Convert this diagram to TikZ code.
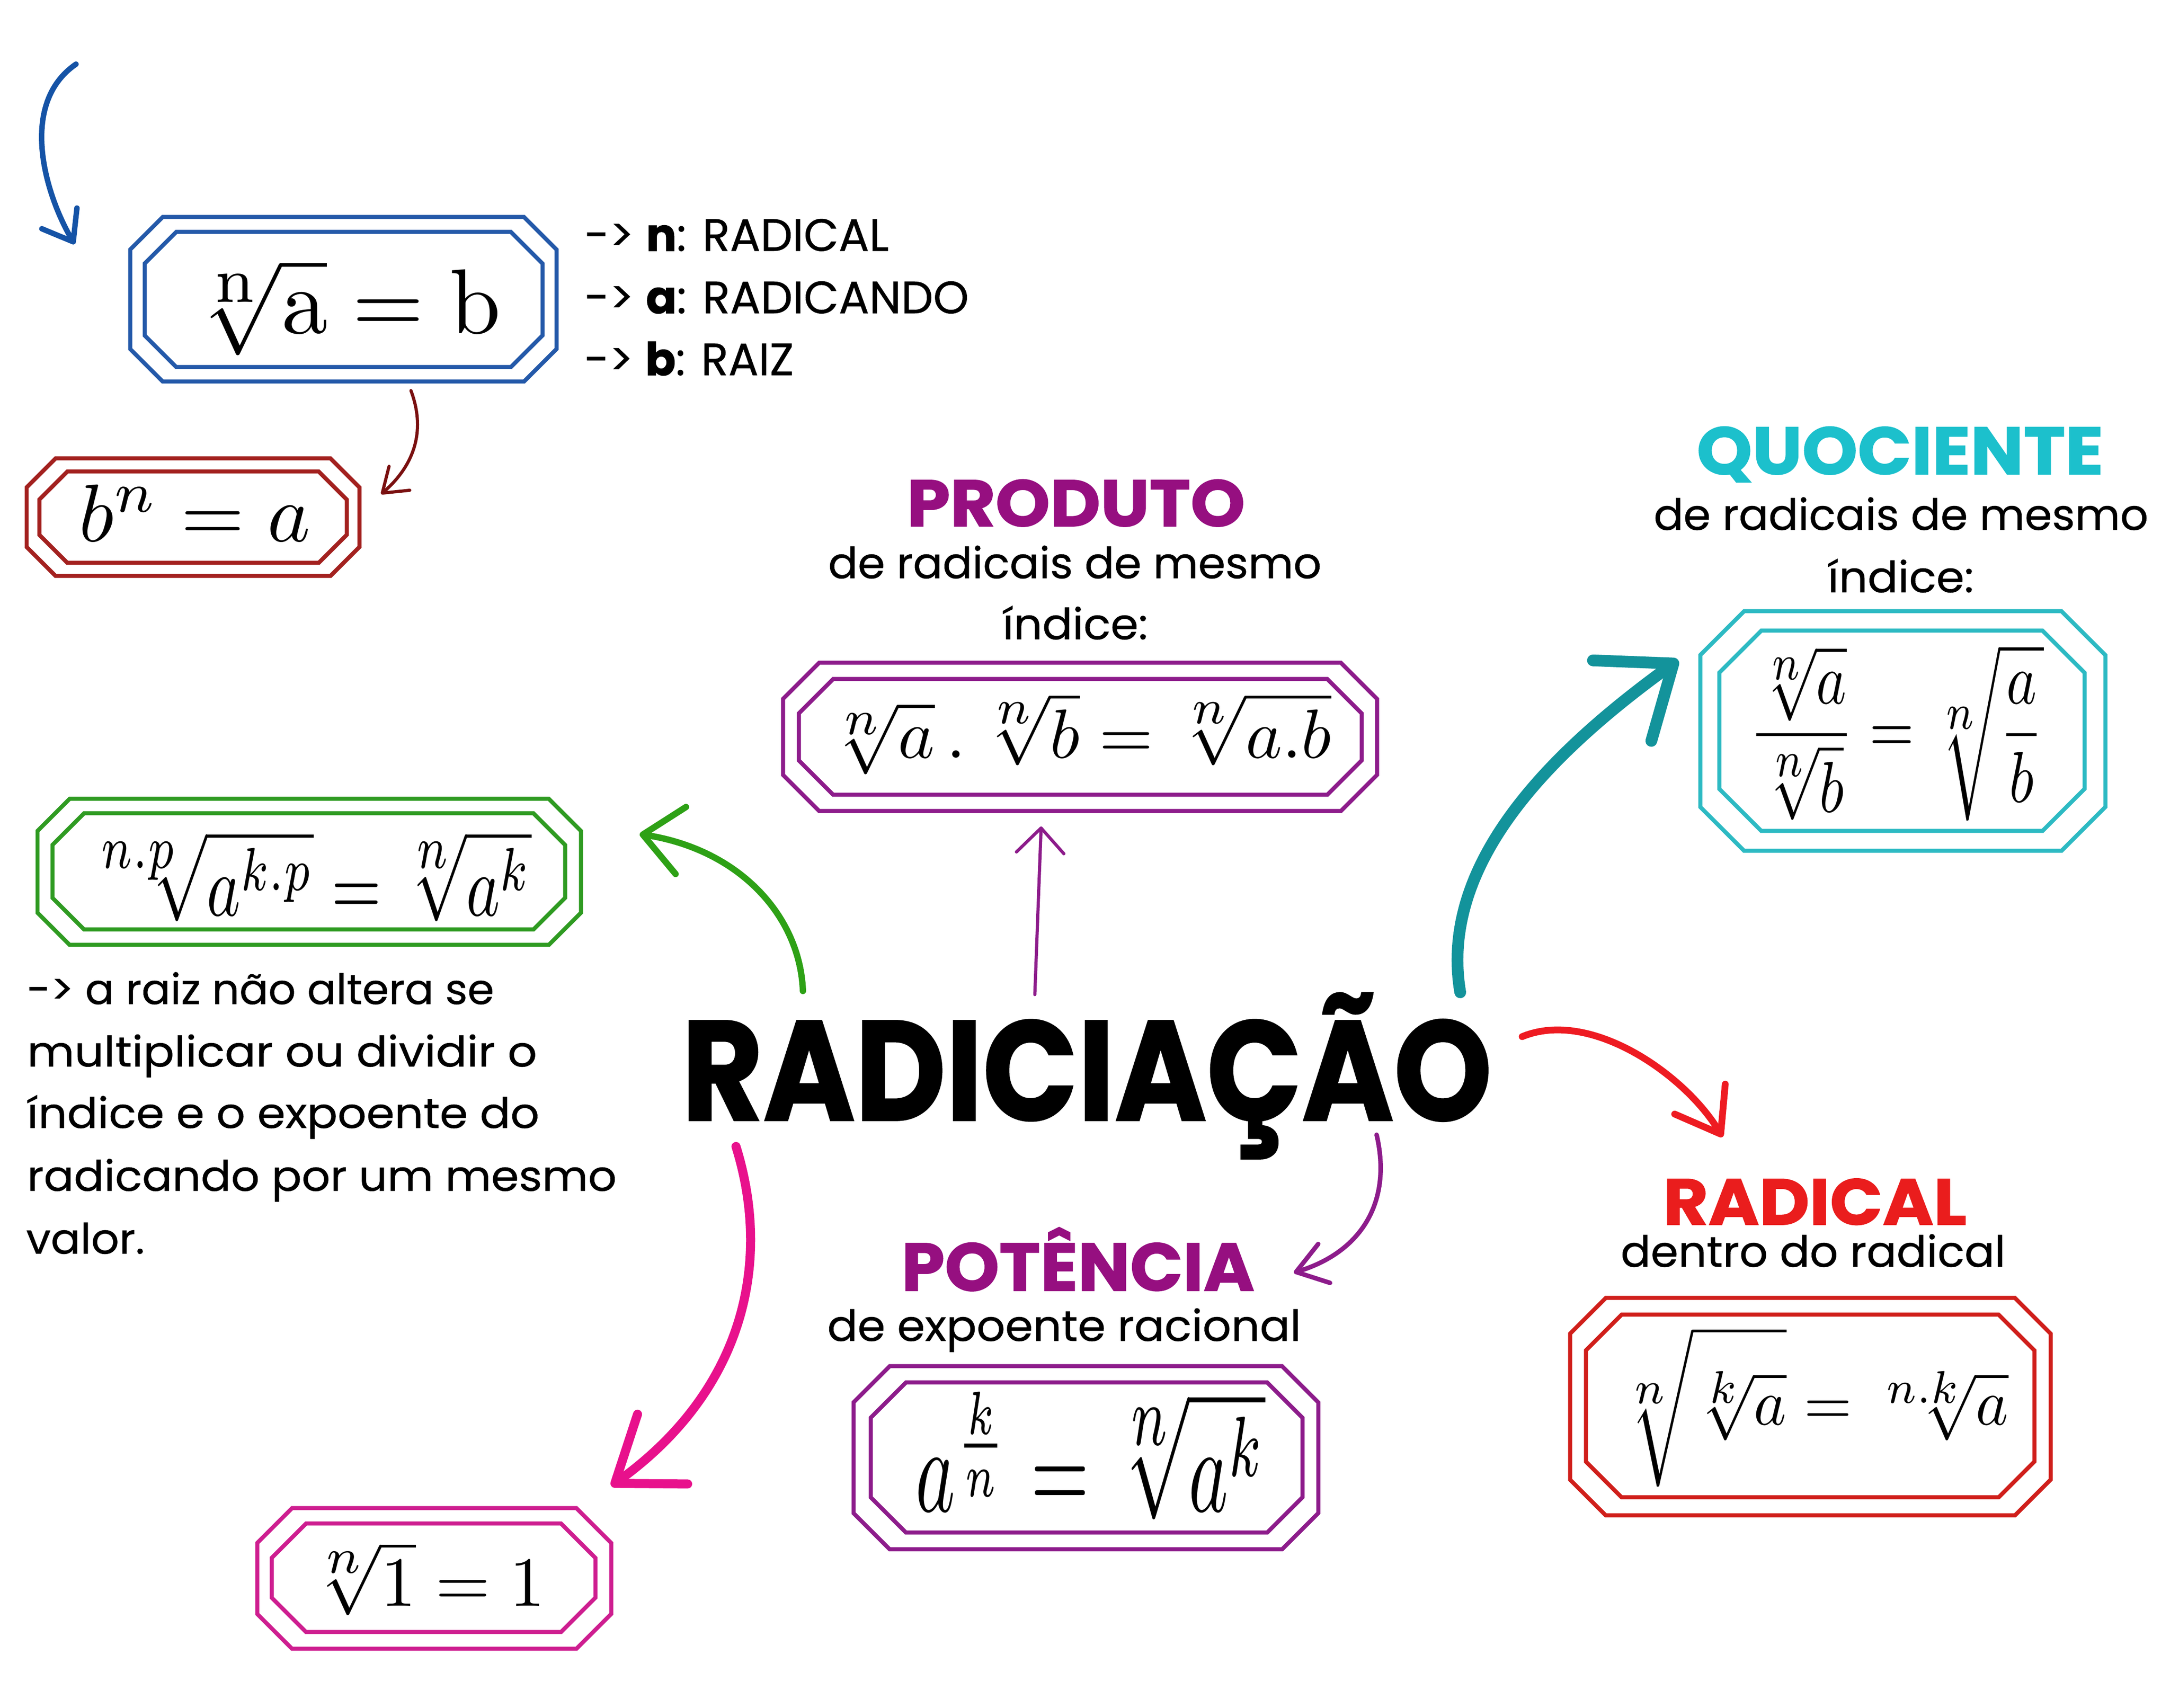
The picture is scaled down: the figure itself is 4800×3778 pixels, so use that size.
\documentclass[tikz,border=0pt]{standalone}
\usepackage[no-math]{fontspec}
\setmainfont{Poppins}
\newfontfamily\bodyf{Poppins}[FakeBold=0.6]
\newfontfamily\headf{Poppins}[UprightFont=* Bold,FakeBold=1.2]
\usepackage{graphicx}
\usepackage{amsmath}
\usetikzlibrary{arrows.meta}
\definecolor{cBlueA}{HTML}{1553A6}
\definecolor{cBlueB}{HTML}{2459A9}
\definecolor{cDRedA}{HTML}{7A1010}
\definecolor{cDRedB}{HTML}{A3211F}
\definecolor{cPurT}{HTML}{960F80}
\definecolor{cPurB}{HTML}{8D1C8B}
\definecolor{cTealT}{HTML}{1CC0CC}
\definecolor{cTealB}{HTML}{2DBAC3}
\definecolor{cTealA}{HTML}{13939B}
\definecolor{cGreenB}{HTML}{2F9B22}
\definecolor{cGreenA}{HTML}{2EA116}
\definecolor{cMagA}{HTML}{E8118C}
\definecolor{cMagB}{HTML}{CE1E90}
\definecolor{cRedT}{HTML}{EA1D1D}
\definecolor{cRedB}{HTML}{D01F1B}
\definecolor{cRedA}{HTML}{EE1B22}
\newcommand{\fitcap}[3]{\resizebox{#1}{#2}{\vphantom{I}\smash{#3}}}
\newcommand{\fitx}[3]{\resizebox{#1}{#2}{\vphantom{x}\smash{#3}}}
\newcommand{\octa}[6]{\draw[#6] ({#1+#5},#2) -- ({#3-#5},#2) -- (#3,{#2+#5}) -- (#3,{#4-#5}) -- ({#3-#5},#4) -- ({#1+#5},#4) -- (#1,{#4-#5}) -- (#1,{#2+#5}) -- cycle;}
\newcommand{\rt}[2]{\sqrt[\scriptstyle #1]{#2}}
\begin{document}
\begin{tikzpicture}[x=0.1pt,y=-0.1pt,
  txt/.style={inner sep=0pt,outer sep=0pt,anchor=base west,font=\bodyf},
  head/.style={inner sep=0pt,outer sep=0pt,anchor=base west,font=\headf},
  fml/.style={inner sep=0pt,outer sep=0pt,anchor=center},
  boxline/.style={line width=0.9pt,line join=miter},
  conn/.style={line cap=round,line join=round}]
\useasboundingbox (0,0) rectangle (4800,3778);
\fill[white] (0,0) rectangle (4800,3778);

% ---------- boxes ----------
\octa{288}{480}{1231}{844}{72}{boxline,cBlueB}
\octa{320}{513}{1200}{812}{70}{boxline,cBlueB}
\octa{59}{1014}{795}{1274}{64}{boxline,cDRedB}
\octa{87}{1043}{767}{1245}{62}{boxline,cDRedB}
\octa{1732}{1466}{3046}{1794}{80}{boxline,cPurB}
\octa{1767}{1502}{3012}{1758}{76}{boxline,cPurB}
\octa{3761}{1352}{4657}{1882}{97}{boxline,cTealB}
\octa{3803}{1395}{4611}{1838}{93}{boxline,cTealB}
\octa{83}{1767}{1285}{2090}{71}{boxline,cGreenB}
\octa{116}{1799}{1250}{2056}{70}{boxline,cGreenB}
\octa{1888}{3022}{2916}{3427}{80}{boxline,cPurB}
\octa{1926}{3058}{2881}{3390}{78}{boxline,cPurB}
\octa{3473}{2871}{4536}{3352}{79}{boxline,cRedB}
\octa{3508}{2908}{4500}{3312}{79}{boxline,cRedB}
\octa{569}{3336}{1352}{3647}{77}{boxline,cMagB}
\octa{601}{3370}{1317}{3610}{76}{boxline,cMagB}

% ---------- formulas ----------
\node[fml] (fBlue) at (763,680) {\resizebox{69pt}{!}{$\rt{\mathrm{n}}{\mathrm{a}}=\mathrm{b}$}};
\node[fml] (fRed) at (431,1135) {\resizebox{51.2pt}{!}{$b^{n}=a$}};
\node[fml] (fProd) at (2385,1623) {\resizebox{112pt}{!}{$\rt{n}{a}\,.\,\rt{n}{b}=\rt{n}{a.b}$}};
\node[fml] (fQuo) at (4195,1621) {\resizebox*{65.1pt}{39pt}{$\dfrac{\rt{n}{a}}{\rt{n}{b}}=\rt{n}{\dfrac{a}{b}}$}};
\node[fml] (fGreen) at (680,1938) {\resizebox*{99.1pt}{20pt}{$\sqrt[\scriptstyle n.p\;]{a^{k.p}}=\rt{n}{a^{k}}$}};
\node[fml] (fPot) at (2412,3220) {\resizebox*{77.4pt}{28.3pt}{$a^{\frac{k}{n}}=\rt{n}{a^{k}}$}};
\node[fml] (fRad) at (4010,3112) {\resizebox*{86.5pt}{35.3pt}{$\rt{n}{\vphantom{\dfrac{a}{b}}\rt{k}{a}}=\rt{n.k}{a}$}};
\node[fml] (fOne) at (942,3492) {\resizebox{52.7pt}{!}{$\rt{n}{1}=1$}};

% ---------- texts ----------
\node[txt] (lab1) at (1293,555) {\fitcap{67.3pt}{7pt}{-> {\headf n}: RADICAL}};
\node[txt] (lab2) at (1293,693) {\fitcap{85pt}{7pt}{-> {\headf a}: RADICANDO}};
\node[txt] (lab3) at (1293,830) {\fitcap{46.3pt}{7pt}{-> {\headf b}: RAIZ}};

\node[head,text=cPurT] (prodH) at (2006,1164) {\fitcap{74.8pt}{10.2pt}{PRODUTO}};
\node[txt] (prodS1) at (1832,1279) {\fitx{109.1pt}{5.2pt}{de radicais de mesmo}};
\node[txt] (prodS2) at (2218,1414) {\fitx{32.1pt}{5.2pt}{índice:}};

\node[head,text=cTealT] (quoH) at (3753,1049) {\fitcap{90pt}{10.4pt}{QUOCIENTE}};
\node[txt] (quoS1) at (3658,1172) {\fitx{109.4pt}{5.2pt}{de radicais de mesmo}};
\node[txt] (quoS2) at (4043,1310) {\fitx{32.3pt}{5.2pt}{índice:}};

\node[head,text=cRedT] (radH) at (3679,2709) {\fitcap{67.1pt}{10.1pt}{RADICAL}};
\node[txt] (radS) at (3585,2802) {\fitx{85.1pt}{5.2pt}{dentro do radical}};

\node[head,text=cPurT] (potH) at (1994,2855) {\fitcap{78.1pt}{10.5pt}{POTÊNCIA}};
\node[txt] (potS) at (1830,2966) {\fitx{104.8pt}{5.2pt}{de expoente racional}};

\node[head] (main) at (1508,2478) {\fitcap{179.2pt}{22pt}{RADICIAÇÃO}};

\node[txt] (p1) at (60,2221) {\fitx{103.3pt}{5.1pt}{-> a raiz não altera se}};
\node[txt] (p2) at (60,2359) {\fitx{112.8pt}{5.1pt}{multiplicar ou dividir o}};
\node[txt] (p3) at (60,2495) {\fitx{113.3pt}{5.1pt}{índice e o expoente do}};
\node[txt] (p4) at (60,2634) {\fitx{130.4pt}{5.1pt}{radicando por um mesmo}};
\node[txt] (p5) at (58,2773) {\fitx{26.2pt}{5.1pt}{valor.}};

% ---------- connectors ----------
\coordinate (aBlueS) at (168,142);  \coordinate (aBlueE) at (165,540);
\coordinate (aDRedS) at (909,864);  \coordinate (aDRedE) at (843,1093);
\coordinate (aPurS) at (2289,2200); \coordinate (aPurE) at (2303,1828);
\coordinate (aGrnS) at (1776,2192); \coordinate (aGrnE) at (1415,1845);
\coordinate (aTealS) at (3230,2195);\coordinate (aTealE) at (3712,1460);
\coordinate (aRedS) at (3367,2293); \coordinate (aRedE) at (3810,2515);
\coordinate (aMagS) at (1628,2536); \coordinate (aMagE) at (1352,3287);
\coordinate (aPotS) at (3045,2510); \coordinate (aPotE) at (2862,2815);

\draw[conn,cBlueA,line width=1.2pt,-{Straight Barb[length=6pt,width=9pt,round]}] (aBlueS) .. controls (40,230) and (100,430) .. (aBlueE);
\draw[conn,cDRedA,line width=0.7pt,-{Straight Barb[length=5pt,width=7pt,round]}] (aDRedS) .. controls (945,960) and (910,1035) .. (aDRedE);
\draw[conn,cPurB,line width=0.7pt,-{Straight Barb[length=5.5pt,width=10.5pt,round]}] (aPurS) -- (aPurE);
\draw[conn,cGreenA,line width=1.4pt,-{Straight Barb[length=8.5pt,width=15pt,round]}] (aGrnS) .. controls (1770,2030) and (1640,1880) .. (aGrnE);
\draw[conn,cTealA,line width=2.6pt,-{Straight Barb[length=14pt,width=22pt,round]}] (aTealS) .. controls (3180,1900) and (3450,1650) .. (aTealE);
\draw[conn,cRedA,line width=1.5pt,-{Straight Barb[length=9pt,width=13pt,round]}] (aRedS) .. controls (3520,2230) and (3730,2380) .. (aRedE);
\draw[conn,cMagA,line width=2pt,-{Straight Barb[length=13pt,width=19pt,round]}] (aMagS) .. controls (1710,2800) and (1640,3080) .. (aMagE);
\draw[conn,cPurB,line width=1pt,-{Straight Barb[length=6.5pt,width=9pt,round]}] (aPotS) .. controls (3080,2660) and (3010,2770) .. (aPotE);
\end{tikzpicture}
\end{document}
